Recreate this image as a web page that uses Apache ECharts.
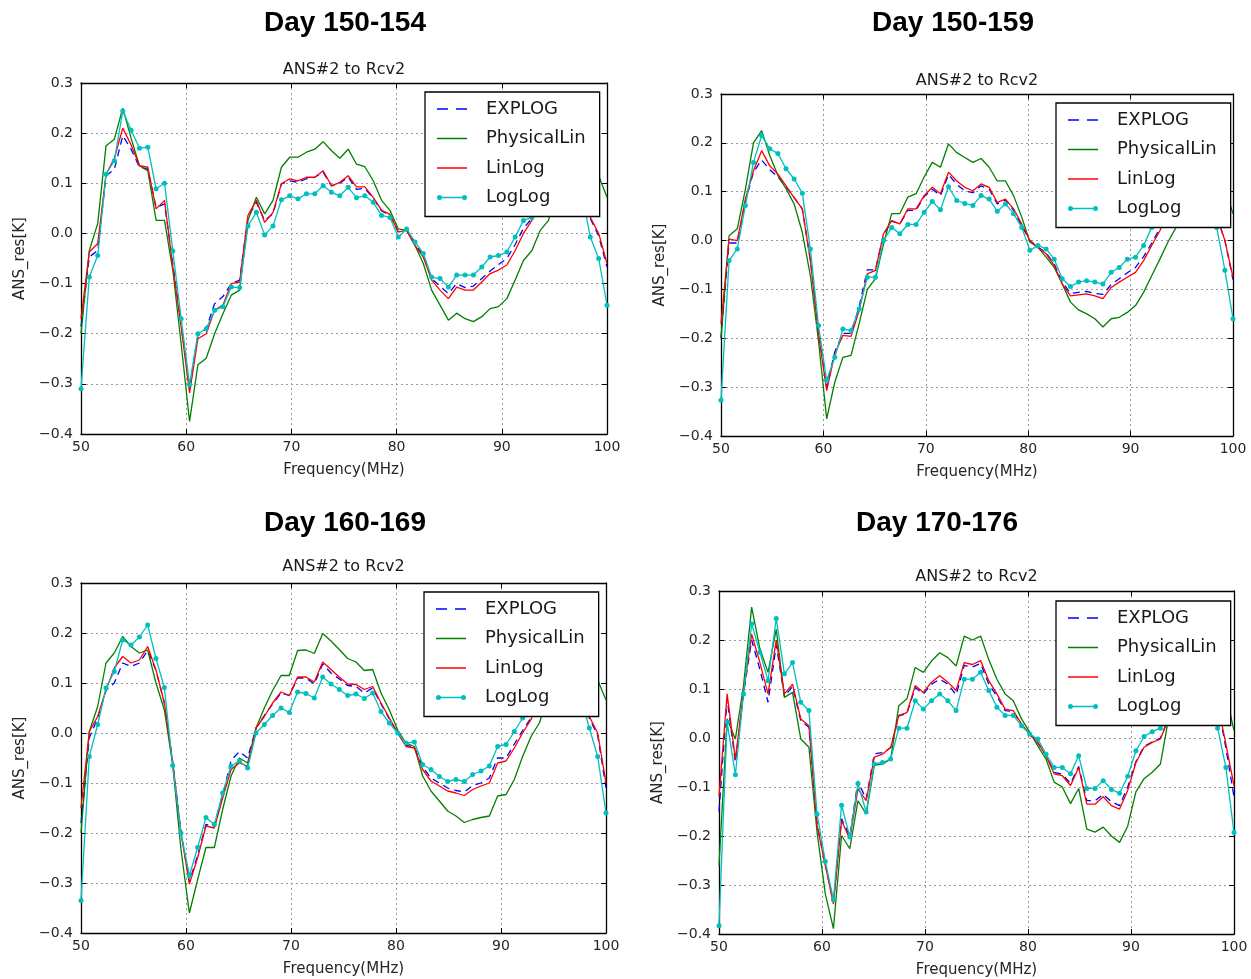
<!DOCTYPE html>
<html>
<head>
<meta charset="utf-8">
<script src="https://cdn.jsdelivr.net/npm/echarts@6/dist/echarts.min.js"></script>
<style>
  html, body { margin: 0; padding: 0; background: #ffffff; }
  #chart { width: 1251px; height: 979px; }
</style>
</head>
<body>
<div id="chart"></div>
<script>
// Frequency channels (MHz) shared by every panel
const freqMHz = [50.00, 50.79, 51.59, 52.38, 53.17, 53.97, 54.76, 55.56, 56.35, 57.14,
  57.94, 58.73, 59.52, 60.32, 61.11, 61.90, 62.70, 63.49, 64.29, 65.08,
  65.87, 66.67, 67.46, 68.25, 69.05, 69.84, 70.63, 71.43, 72.22, 73.02,
  73.81, 74.60, 75.40, 76.19, 76.98, 77.78, 78.57, 79.37, 80.16, 80.95,
  81.75, 82.54, 83.33, 84.13, 84.92, 85.71, 86.51, 87.30, 88.10, 88.89,
  89.68, 90.48, 91.27, 92.06, 92.86, 93.65, 94.44, 95.24, 96.03, 96.83,
  97.62, 98.41, 99.21, 100.00];

const seriesNames = ['EXPLOG', 'PhysicalLin', 'LinLog', 'LogLog'];
const panelTitles = ['Day 150-154', 'Day 150-159', 'Day 160-169', 'Day 170-176'];
const plotSubtitle = 'ANS#2 to Rcv2';
const xAxisName = 'Frequency(MHz)';
const yAxisName = 'ANS_res[K]';

// Residuals (K), Day 150-154
const explog150_154 = [-0.186, -0.047, -0.034, 0.115, 0.128, 0.195, 0.168, 0.132, 0.128, 0.052,
  0.059, -0.060, -0.183, -0.308, -0.203, -0.190, -0.140, -0.126, -0.100, -0.093,
  0.032, 0.062, 0.026, 0.039, 0.099, 0.105, 0.102, 0.109, 0.112, 0.122,
  0.095, 0.100, 0.112, 0.088, 0.090, 0.070, 0.045, 0.036, 0.003, 0.007,
  -0.020, -0.045, -0.090, -0.105, -0.120, -0.100, -0.108, -0.105, -0.090, -0.075,
  -0.062, -0.050, -0.022, 0.010, 0.030, 0.060, 0.100, 0.140, 0.160, 0.150,
  0.100, 0.030, -0.005, -0.067];
const physlin150_154 = [-0.200, -0.034, 0.020, 0.175, 0.188, 0.250, 0.190, 0.135, 0.125, 0.026,
  0.026, -0.074, -0.220, -0.375, -0.262, -0.249, -0.200, -0.160, -0.123, -0.113,
  0.026, 0.072, 0.039, 0.066, 0.132, 0.152, 0.152, 0.162, 0.168, 0.183,
  0.165, 0.150, 0.168, 0.138, 0.133, 0.105, 0.066, 0.046, 0.009, 0.006,
  -0.024, -0.060, -0.113, -0.143, -0.173, -0.159, -0.170, -0.176, -0.166, -0.150,
  -0.146, -0.130, -0.093, -0.054, -0.034, 0.006, 0.026, 0.090, 0.160, 0.220,
  0.230, 0.180, 0.115, 0.072];
const linlog150_154 = [-0.170, -0.037, -0.020, 0.118, 0.150, 0.210, 0.177, 0.135, 0.132, 0.049,
  0.066, -0.067, -0.186, -0.318, -0.210, -0.200, -0.153, -0.143, -0.100, -0.097,
  0.036, 0.066, 0.022, 0.042, 0.099, 0.109, 0.105, 0.112, 0.112, 0.125,
  0.095, 0.102, 0.115, 0.093, 0.093, 0.072, 0.046, 0.038, 0.003, 0.006,
  -0.024, -0.047, -0.093, -0.113, -0.130, -0.107, -0.113, -0.113, -0.097, -0.080,
  -0.073, -0.063, -0.034, 0.000, 0.026, 0.060, 0.100, 0.140, 0.160, 0.150,
  0.100, 0.032, 0.000, -0.060];
const loglog150_154 = [-0.310, -0.087, -0.044, 0.118, 0.145, 0.244, 0.206, 0.170, 0.172, 0.089,
  0.100, -0.035, -0.170, -0.302, -0.200, -0.190, -0.153, -0.146, -0.107, -0.108,
  0.015, 0.042, -0.003, 0.015, 0.067, 0.075, 0.069, 0.079, 0.079, 0.095,
  0.082, 0.075, 0.092, 0.071, 0.075, 0.062, 0.036, 0.032, -0.007, 0.009,
  -0.017, -0.040, -0.087, -0.090, -0.107, -0.083, -0.083, -0.083, -0.067, -0.047,
  -0.044, -0.037, -0.007, 0.026, 0.032, 0.070, 0.120, 0.150, 0.160, 0.140,
  0.080, -0.007, -0.050, -0.143];

// Residuals (K), Day 150-159
const explog150_159 = [-0.200, -0.005, -0.005, 0.080, 0.140, 0.165, 0.145, 0.130, 0.110, 0.088,
  0.065, -0.040, -0.185, -0.300, -0.228, -0.190, -0.190, -0.135, -0.060, -0.060,
  0.012, 0.040, 0.034, 0.062, 0.062, 0.090, 0.105, 0.092, 0.135, 0.115,
  0.102, 0.098, 0.112, 0.105, 0.075, 0.083, 0.062, 0.030, 0.000, -0.013,
  -0.025, -0.048, -0.085, -0.108, -0.106, -0.104, -0.108, -0.110, -0.090, -0.078,
  -0.066, -0.055, -0.033, -0.005, 0.025, 0.060, 0.110, 0.150, 0.170, 0.160,
  0.120, 0.050, 0.000, -0.080];
const physlin150_159 = [-0.200, 0.010, 0.024, 0.105, 0.200, 0.225, 0.174, 0.133, 0.106, 0.075,
  0.017, -0.072, -0.205, -0.365, -0.290, -0.239, -0.235, -0.170, -0.100, -0.078,
  -0.007, 0.055, 0.055, 0.089, 0.096, 0.130, 0.160, 0.150, 0.198, 0.180,
  0.170, 0.160, 0.168, 0.150, 0.122, 0.122, 0.092, 0.048, -0.003, -0.014,
  -0.034, -0.055, -0.089, -0.126, -0.142, -0.150, -0.160, -0.177, -0.160, -0.157,
  -0.147, -0.133, -0.106, -0.072, -0.038, -0.003, 0.027, 0.090, 0.160, 0.210,
  0.220, 0.170, 0.109, 0.055];
const linlog150_159 = [-0.170, 0.003, 0.000, 0.085, 0.143, 0.184, 0.153, 0.136, 0.112, 0.088,
  0.065, -0.041, -0.191, -0.307, -0.232, -0.194, -0.196, -0.143, -0.068, -0.061,
  0.014, 0.041, 0.034, 0.065, 0.065, 0.092, 0.109, 0.096, 0.140, 0.122,
  0.109, 0.102, 0.116, 0.109, 0.078, 0.085, 0.065, 0.034, 0.000, -0.014,
  -0.027, -0.051, -0.089, -0.113, -0.111, -0.109, -0.113, -0.119, -0.096, -0.085,
  -0.075, -0.065, -0.041, -0.010, 0.020, 0.060, 0.110, 0.150, 0.170, 0.160,
  0.120, 0.050, 0.000, -0.075];
const loglog150_159 = [-0.327, -0.041, -0.017, 0.072, 0.160, 0.215, 0.188, 0.178, 0.147, 0.126,
  0.097, -0.017, -0.174, -0.286, -0.239, -0.181, -0.184, -0.140, -0.075, -0.075,
  0.000, 0.027, 0.014, 0.033, 0.033, 0.058, 0.080, 0.063, 0.110, 0.082,
  0.076, 0.072, 0.092, 0.085, 0.060, 0.075, 0.055, 0.027, -0.020, -0.010,
  -0.017, -0.038, -0.078, -0.094, -0.085, -0.082, -0.085, -0.089, -0.065, -0.055,
  -0.038, -0.034, -0.010, 0.027, 0.070, 0.120, 0.160, 0.180, 0.170, 0.130,
  0.080, 0.027, -0.061, -0.160];

// Residuals (K), Day 160-169
const explog160_169 = [-0.180, -0.010, 0.030, 0.085, 0.100, 0.140, 0.133, 0.140, 0.165, 0.125,
  0.060, -0.058, -0.198, -0.297, -0.245, -0.183, -0.185, -0.125, -0.055, -0.037,
  -0.050, 0.010, 0.035, 0.058, 0.080, 0.075, 0.110, 0.110, 0.098, 0.138,
  0.120, 0.108, 0.095, 0.093, 0.080, 0.090, 0.058, 0.028, 0.000, -0.025,
  -0.028, -0.068, -0.090, -0.100, -0.110, -0.115, -0.118, -0.105, -0.100, -0.090,
  -0.050, -0.050, -0.022, 0.005, 0.030, 0.070, 0.110, 0.150, 0.170, 0.150,
  0.090, 0.030, -0.005, -0.110];
const physlin160_169 = [-0.200, 0.003, 0.053, 0.140, 0.160, 0.193, 0.173, 0.160, 0.166, 0.100,
  0.046, -0.063, -0.233, -0.360, -0.293, -0.229, -0.229, -0.153, -0.086, -0.050,
  -0.060, 0.010, 0.050, 0.085, 0.115, 0.115, 0.165, 0.166, 0.159, 0.199,
  0.184, 0.167, 0.149, 0.142, 0.125, 0.127, 0.080, 0.046, 0.006, -0.020,
  -0.027, -0.086, -0.116, -0.136, -0.156, -0.166, -0.179, -0.173, -0.169, -0.166,
  -0.126, -0.123, -0.093, -0.047, -0.007, 0.020, 0.070, 0.130, 0.190, 0.220,
  0.200, 0.150, 0.106, 0.066];
const linlog160_169 = [-0.150, 0.003, 0.033, 0.086, 0.130, 0.153, 0.140, 0.146, 0.173, 0.126,
  0.060, -0.057, -0.200, -0.302, -0.249, -0.186, -0.190, -0.130, -0.073, -0.060,
  -0.066, 0.010, 0.033, 0.060, 0.082, 0.075, 0.112, 0.112, 0.102, 0.142,
  0.127, 0.112, 0.098, 0.097, 0.087, 0.093, 0.060, 0.030, 0.000, -0.027,
  -0.030, -0.073, -0.096, -0.106, -0.116, -0.120, -0.125, -0.113, -0.106, -0.100,
  -0.060, -0.056, -0.030, 0.000, 0.027, 0.070, 0.110, 0.150, 0.170, 0.150,
  0.090, 0.033, 0.000, -0.100];
const loglog160_169 = [-0.335, -0.047, 0.017, 0.090, 0.123, 0.186, 0.176, 0.192, 0.216, 0.149,
  0.091, -0.065, -0.200, -0.285, -0.229, -0.169, -0.183, -0.120, -0.066, -0.056,
  -0.070, 0.000, 0.017, 0.035, 0.050, 0.041, 0.082, 0.079, 0.070, 0.112,
  0.098, 0.087, 0.075, 0.078, 0.069, 0.080, 0.043, 0.020, 0.000, -0.020,
  -0.018, -0.063, -0.073, -0.087, -0.097, -0.093, -0.097, -0.083, -0.076, -0.066,
  -0.027, -0.023, 0.003, 0.030, 0.070, 0.120, 0.160, 0.180, 0.170, 0.130,
  0.070, 0.010, -0.047, -0.160];

// Residuals (K), Day 170-176
const explog170_176 = [-0.150, 0.080, -0.050, 0.090, 0.200, 0.140, 0.073, 0.190, 0.085, 0.105,
  0.035, 0.022, -0.175, -0.258, -0.335, -0.165, -0.200, -0.088, -0.125, -0.032,
  -0.030, -0.020, 0.045, 0.050, 0.103, 0.090, 0.110, 0.120, 0.110, 0.088,
  0.148, 0.145, 0.152, 0.110, 0.085, 0.056, 0.054, 0.027, 0.007, -0.010,
  -0.035, -0.070, -0.074, -0.093, -0.058, -0.128, -0.128, -0.115, -0.130, -0.138,
  -0.100, -0.048, -0.017, -0.008, 0.000, 0.040, 0.090, 0.140, 0.170, 0.170,
  0.130, 0.070, -0.020, -0.120];
const physlin170_176 = [-0.260, 0.039, -0.002, 0.107, 0.267, 0.182, 0.134, 0.222, 0.083, 0.093,
  -0.002, -0.019, -0.192, -0.318, -0.389, -0.199, -0.226, -0.128, -0.155, -0.056,
  -0.053, -0.043, 0.066, 0.080, 0.144, 0.134, 0.157, 0.174, 0.164, 0.147,
  0.208, 0.200, 0.208, 0.160, 0.120, 0.090, 0.076, 0.039, 0.012, -0.016,
  -0.043, -0.090, -0.100, -0.134, -0.103, -0.186, -0.192, -0.182, -0.200, -0.213,
  -0.180, -0.110, -0.083, -0.070, -0.053, 0.040, 0.100, 0.160, 0.200, 0.210,
  0.180, 0.140, 0.090, 0.015];
const linlog170_176 = [-0.120, 0.090, -0.043, 0.093, 0.212, 0.154, 0.090, 0.200, 0.090, 0.110,
  0.039, 0.025, -0.179, -0.260, -0.339, -0.169, -0.206, -0.104, -0.128, -0.039,
  -0.033, -0.019, 0.046, 0.052, 0.107, 0.093, 0.114, 0.127, 0.114, 0.097,
  0.154, 0.150, 0.158, 0.117, 0.090, 0.059, 0.056, 0.029, 0.008, -0.009,
  -0.036, -0.073, -0.077, -0.097, -0.060, -0.135, -0.135, -0.120, -0.138, -0.145,
  -0.107, -0.050, -0.019, -0.009, -0.002, 0.040, 0.090, 0.140, 0.170, 0.170,
  0.130, 0.070, -0.012, -0.097];
const loglog170_176 = [-0.383, 0.032, -0.075, 0.090, 0.233, 0.175, 0.117, 0.244, 0.131, 0.154,
  0.073, 0.056, -0.155, -0.252, -0.330, -0.137, -0.202, -0.093, -0.151, -0.053,
  -0.050, -0.043, 0.020, 0.020, 0.076, 0.059, 0.076, 0.090, 0.076, 0.056,
  0.120, 0.120, 0.134, 0.097, 0.063, 0.046, 0.046, 0.025, 0.008, -0.002,
  -0.033, -0.060, -0.060, -0.073, -0.036, -0.103, -0.103, -0.087, -0.105, -0.113,
  -0.078, -0.026, 0.003, 0.013, 0.020, 0.060, 0.120, 0.170, 0.190, 0.170,
  0.120, 0.020, -0.060, -0.193];

const panelData = [
  [explog150_154, physlin150_154, linlog150_154, loglog150_154],
  [explog150_159, physlin150_159, linlog150_159, loglog150_159],
  [explog160_169, physlin160_169, linlog160_169, loglog160_169],
  [explog170_176, physlin170_176, linlog170_176, loglog170_176]
];

// Page layout of the four panels (pixels)
const panelLayout = [
  { grid: { left: 81, top: 83, width: 526, height: 351 }, titleX: 345, titleY: 9, subY: 62, legend: { left: 425, top: 92 } },
  { grid: { left: 721, top: 94, width: 512, height: 342 }, titleX: 953, titleY: 9, subY: 73, legend: { left: 1056, top: 103 } },
  { grid: { left: 81, top: 583, width: 525, height: 350 }, titleX: 345, titleY: 509, subY: 559, legend: { left: 424, top: 592 } },
  { grid: { left: 719, top: 591, width: 515, height: 343 }, titleX: 937, titleY: 509, subY: 569, legend: { left: 1056, top: 601 } }
];

const lineStyles = [
  { color: '#0000ff', type: [7, 5] },
  { color: '#008000', type: 'solid' },
  { color: '#ff0000', type: 'solid' },
  { color: '#00bfbf', type: 'solid' }
];

// Legend keys: dashed stroke, plain stroke, stroke with a dot at each end
const legendIcons = [
  'path://M0,0 L11,0 L11,1.5 L0,1.5 Z M19,0 L30,0 L30,1.5 L19,1.5 Z',
  'path://M0,0 L30,0 L30,1.5 L0,1.5 Z',
  'path://M0,0 L30,0 L30,1.5 L0,1.5 Z',
  'path://M0,2.5 A2.5,2.5 0 1,1 5,2.5 A2.5,2.5 0 1,1 0,2.5 Z M25,2.5 A2.5,2.5 0 1,1 30,2.5 A2.5,2.5 0 1,1 25,2.5 Z M3,1.8 L27,1.8 L27,3.2 L3,3.2 Z'
];

const tickFont = { fontFamily: 'DejaVu Sans', fontSize: 14, color: '#262626' };
const fmtY = v => (v < -1e-9 ? '\u2212' : '') + Math.abs(v).toFixed(1);

const titles = [], grids = [], xAxes = [], yAxes = [], series = [], legends = [];

panelLayout.forEach((p, i) => {
  const cx = p.grid.left + p.grid.width / 2;
  titles.push({
    text: panelTitles[i], left: p.titleX, top: p.titleY, textAlign: 'center', padding: 0,
    textStyle: { fontFamily: 'Liberation Sans, Arial, sans-serif', fontWeight: 'bold', fontSize: 28, color: '#000' }
  });
  titles.push({
    text: plotSubtitle, left: cx, top: p.subY, textAlign: 'center', padding: 0,
    textStyle: { fontFamily: 'DejaVu Sans', fontWeight: 'normal', fontSize: 16, color: '#1a1a1a' }
  });
  grids.push(Object.assign({ containLabel: false }, p.grid));

  const frameLine = { show: true, onZero: false, lineStyle: { color: '#000', width: 1.3 } };
  const innerTick = { show: true, inside: true, length: 5, lineStyle: { color: '#000', width: 1 } };
  const gridLine = { show: true, lineStyle: { color: '#9a9a9a', width: 1, type: [2, 3] } };

  xAxes.push({
    gridIndex: i, type: 'value', min: 50, max: 100, interval: 10, position: 'bottom',
    axisLine: frameLine, axisTick: innerTick, splitLine: gridLine,
    axisLabel: Object.assign({ margin: 6 }, tickFont),
    name: xAxisName, nameLocation: 'middle', nameGap: 29,
    nameTextStyle: { fontFamily: 'DejaVu Sans', fontSize: 15, color: '#262626' }
  });
  xAxes.push({
    gridIndex: i, type: 'value', min: 50, max: 100, interval: 10, position: 'top',
    axisLine: frameLine, axisTick: innerTick, splitLine: { show: false }, axisLabel: { show: false }
  });
  yAxes.push({
    gridIndex: i, type: 'value', min: -0.4, max: 0.3, interval: 0.1, position: 'left',
    axisLine: frameLine, axisTick: innerTick, splitLine: gridLine,
    axisLabel: Object.assign({ margin: 8, formatter: fmtY }, tickFont),
    name: yAxisName, nameLocation: 'middle', nameRotate: 90, nameGap: 53,
    nameTextStyle: { fontFamily: 'DejaVu Sans', fontSize: 15, color: '#262626' }
  });
  yAxes.push({
    gridIndex: i, type: 'value', min: -0.4, max: 0.3, interval: 0.1, position: 'right',
    axisLine: frameLine, axisTick: innerTick, splitLine: { show: false }, axisLabel: { show: false }
  });

  seriesNames.forEach((name, s) => {
    const vals = panelData[i][s];
    const isDots = name === 'LogLog';
    series.push({
      type: 'line', name: name,
      xAxisIndex: 2 * i, yAxisIndex: 2 * i,
      data: freqMHz.map((f, k) => [f, vals[k]]),
      symbol: isDots ? 'circle' : 'none', symbolSize: 5, showSymbol: isDots, showAllSymbol: true,
      lineStyle: { color: lineStyles[s].color, width: 1.3, type: lineStyles[s].type },
      itemStyle: { color: lineStyles[s].color, borderWidth: 0 },
      clip: true, silent: true, animation: false, z: 2 + s * 0.1
    });
  });

  legends.push({
    left: p.legend.left, top: p.legend.top, orient: 'vertical',
    data: seriesNames.map((name, s) => ({ name: name, icon: legendIcons[s] })),
    itemWidth: 30, itemHeight: 14, itemGap: 11.5, symbolKeepAspect: true,
    padding: [8, 14, 10, 12],
    backgroundColor: '#fff', borderColor: '#000', borderWidth: 1.3, borderRadius: 0,
    selectedMode: false, z: 10,
    textStyle: { fontFamily: 'DejaVu Sans', fontSize: 18, color: '#1a1a1a', padding: [0, 0, 0, 14] }
  });
});

const chart = echarts.init(document.getElementById('chart'), null, { renderer: 'canvas', width: 1251, height: 979 });
chart.setOption({
  backgroundColor: '#ffffff',
  animation: false,
  title: titles,
  grid: grids,
  xAxis: xAxes,
  yAxis: yAxes,
  legend: legends,
  series: series
});
</script>
</body>
</html>
